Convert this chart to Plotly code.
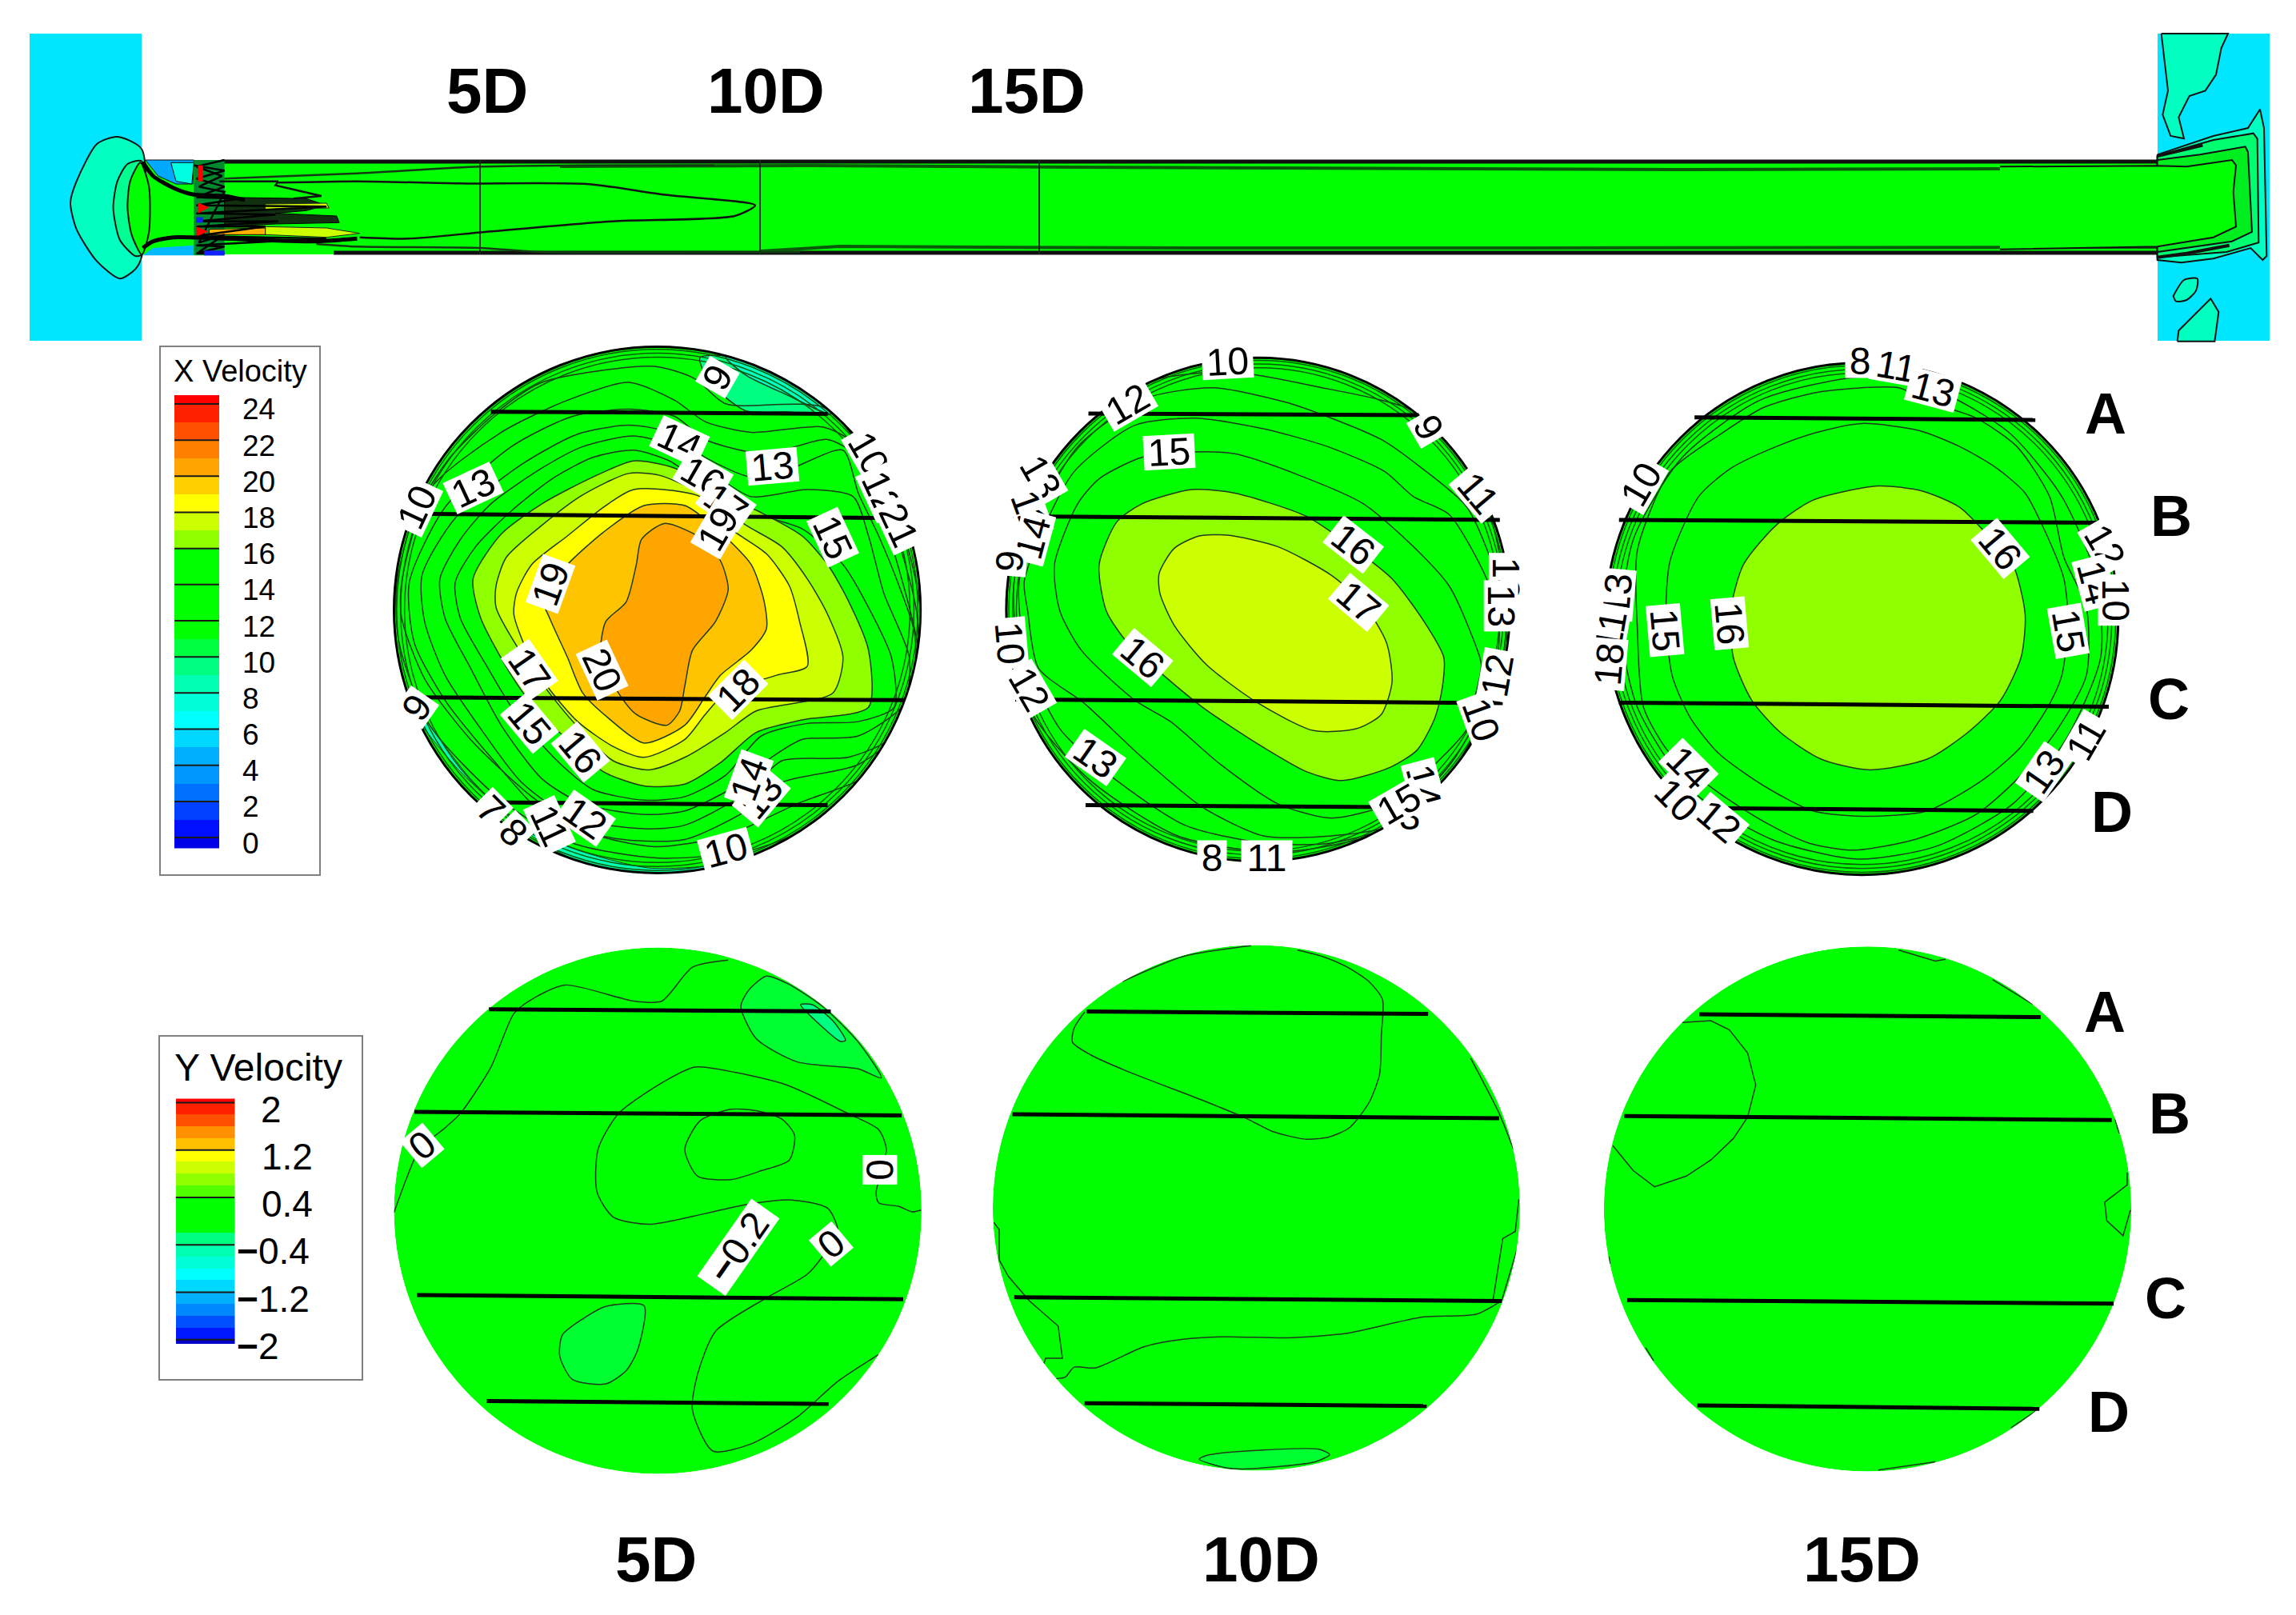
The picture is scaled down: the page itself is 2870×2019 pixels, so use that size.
import math
import plotly.graph_objects as go

W, H = 2870, 2019
FONT = "Liberation Sans"
LINE = "#1c3a1c"
GREEN = "#00ff00"

# panels: page rectangle (x0, y0, w, h) and the units the contours were read in
PANELS = {
    "page": (0, 0, 2870, 2019, 2870, 2019),
    "strip_l": (0, 0, 1000, 450, 1568, 1350),
    "strip_r": (2500, 0, 370, 450, 1110, 1350),
    "x5": (180, 420, 1000, 700, 1568, 1568),
    "x10": (1240, 420, 700, 700, 1568, 1568),
    "x15": (1960, 420, 800, 700, 1568, 1568),
    "y5": (180, 1160, 1000, 700, 1568, 1568),
    "y10": (1220, 1160, 700, 700, 1568, 1568),
    "y15": (1960, 1160, 800, 700, 1568, 1568),
}
# section outlines: centre x, centre y, radius x, radius y
DISCS = {
    "x5": (1006, 767, 516, 737),
    "x10": (745, 766, 705, 705),
    "x15": (720, 792, 628, 717),
    "y5": (1007, 792, 517, 737),
    "y10": (785, 784, 738, 736),
    "y15": (734, 787, 646, 735),
}
RIMS = [0.99, 0.975, 0.96]

# X velocity at 5D, filled regions
X5_L9 = [(1090,60),(1100,110),(1130,160),(1180,210),(1260,213),(1345,218),(1300,150),(1240,100),(1170,60)]
X5_L8 = [(1140,60),(1180,110),(1260,165),(1345,218),(1320,150),(1240,95)]
X5_EDGE_SW = [(500,960),(560,1090),(640,1240),(760,1400),(900,1500),(1100,1510),(1240,1440),(1130,1480),(990,1490),(850,1440),(740,1370),(620,1220),(540,1080)]
X5_L16 = [(645,680),(700,555),(780,470),(880,395),(960,350),(1040,370),(1110,430),(1210,495),(1290,560),(1340,640),(1380,740),(1420,880),(1420,1040),(1290,1075),(1200,1110),(1130,1195),(1060,1255),(980,1260),(900,1220),(830,1130),(770,1050),(720,950),(660,790)]
X5_L17 = [(690,700),(710,620),(780,530),(860,445),(950,385),(1010,390),(1090,440),(1180,530),(1250,590),(1300,680),(1340,780),(1370,900),(1350,1000),(1200,1050),(1140,1110),(1060,1180),(990,1215),(920,1190),(860,1110),(800,1010),(740,890),(690,760)]
X5_L18 = [(730,720),(760,640),(830,560),(900,480),(960,430),(1090,450),(1150,540),(1220,610),(1265,700),(1285,800),(1300,925),(1240,950),(1140,1000),(1100,1060),(1060,1130),(980,1180),(920,1150),(850,1080),(790,980),(750,880),(725,780)]
X5_L19 = [(780,730),(830,640),(900,550),(980,475),(1060,475),(1130,550),(1190,640),(1215,740),(1220,820),(1190,880),(1130,950),(1100,1010),(1060,1090),(980,1140),(910,1070),(860,1000),(830,900),(795,790)]
X5_L20 = [(1020,525),(1090,565),(1130,630),(1145,710),(1120,800),(1075,880),(1060,980),(1050,1050),(1025,1090),(965,1060),(930,1000),(895,900),(905,800),(945,745),(965,640),(975,570)]
# X velocity at 5D, plain contour lines
X5_L15 = [(610,690),(650,590),(720,490),(800,400),(880,340),(960,320),(1030,350),(1100,420),(1180,490),(1290,540),(1370,640),(1420,760),(1465,900),(1470,1040),(1400,1080),(1300,1085),(1210,1120),(1140,1230),(1060,1290),(980,1300),(880,1270),(810,1190),(730,1060),(670,920),(620,790),(610,690)]
X5_L14 = [(580,680),(620,570),(680,470),(780,370),(860,310),(960,280),(1040,310),(1110,380),(1190,450),(1300,430),(1390,450),(1420,560),(1450,720),(1500,900),(1490,1030),(1400,1120),(1290,1130),(1230,1180),(1160,1260),(1060,1330),(980,1340),(860,1310),(780,1240),(700,1090),(640,930),(590,790),(580,680)]
X5_L13 = [(545,670),(610,510),(740,360),(850,275),(950,250),(1030,270),(1100,340),(1190,395),(1270,370),(1370,320),(1400,440),(1440,560),(1480,700),(1510,830),(1510,1000),(1460,1130),(1380,1180),(1250,1190),(1180,1280),(1060,1370),(980,1380),(840,1350),(740,1250),(660,1100),(590,950),(550,800),(545,670)]
X5_L12 = [(520,690),(590,480),(720,310),(840,225),(950,205),(1040,225),(1100,290),(1190,325),(1250,320),(1340,290),(1400,340),(1460,560),(1500,760),(1520,900),(1500,1080),(1400,1200),(1250,1250),(1180,1330),(1060,1410),(940,1410),(800,1360),(680,1180),(590,1020),(530,860),(520,690)]
X5_L11 = [(505,690),(560,430),(700,270),(830,180),(950,130),(1040,180),(1100,240),(1190,270),(1330,255),(1390,300),(1470,540),(1515,780),(1510,1020),(1430,1220),(1280,1310),(1140,1400),(1000,1430),(870,1390),(760,1290),(640,1130),(550,960),(505,790),(505,690)]
X5_L10 = [(495,700),(530,500),(600,340),(690,215),(780,130),(1000,85),(1080,120),(1140,190),(1340,205),(1480,520),(1522,780),(1490,1080),(1350,1340),(1190,1440),(1010,1462),(840,1420),(700,1300),(560,1090),(500,860),(495,700)]

# X velocity at 10D
X10_L16 = [(300,640),(350,520),(420,470),(560,430),(680,440),(880,505),(1000,585),(1120,680),(1210,800),(1265,900),(1260,990),(1240,1070),(1190,1160),(1110,1210),(980,1245),(880,1220),(740,1140),(590,1040),(480,950),(380,860),(320,770)]
X10_L17 = [(468,665),(510,595),(580,560),(660,558),(800,590),(950,670),(1040,750),(1105,860),(1120,970),(1090,1060),(1020,1100),(900,1105),(740,1025),(600,920),(510,810),(470,720)]
X10_L15 = [(175,640),(240,470),(300,400),(420,340),(560,325),(680,330),(860,390),(1040,470),(1180,590),(1280,700),(1340,830),(1370,920),(1350,1020),(1330,1100),(1260,1180),(1110,1310),(950,1350),(800,1310),(640,1200),(500,1080),(400,1020),(250,880),(190,770),(175,640)]
X10_L14 = [(90,690),(130,570),(230,380),(400,250),(570,230),(760,260),(940,310),(1100,380),(1180,450),(1280,500),(1385,680),(1420,800),(1400,1000),(1300,1200),(1120,1370),(950,1400),(760,1400),(590,1320),(420,1180),(260,1030),(130,930),(100,770),(90,690)]
X10_L13 = [(75,700),(110,540),(240,310),(430,175),(620,145),(820,185),(950,230),(1090,290),(1190,360),(1330,480),(1420,700),(1440,900),(1340,1160),(1150,1360),(950,1420),(760,1420),(540,1370),(330,1230),(190,1100),(95,900),(75,700)]
X10_L12 = [(60,720),(100,500),(230,270),(430,130),(660,100),(900,140),(1200,220),(1380,460),(1435,700),(1430,900),(1290,1190),(1080,1390),(800,1445),(520,1400),(270,1240),(110,1050),(60,720)]

# X velocity at 15D
X15_L16 = [(760,420),(870,435),(960,480),(1030,560),(1090,640),(1120,780),(1110,900),(1060,1020),(980,1110),(880,1185),(740,1215),(620,1185),(520,1110),(450,1020),(405,900),(400,760),(430,640),(510,530),(600,460)]
X15_L15 = [(720,245),(860,265),(960,310),(1050,370),(1120,440),(1170,550),(1215,680),(1225,800),(1210,950),(1180,1030),(1110,1150),(1020,1240),(880,1330),(720,1345),(600,1330),(480,1260),(370,1170),(300,1070),(255,950),(240,780),(250,630),(320,450),(400,370),(510,310),(610,270),(720,245)]
X15_L14 = [(720,145),(810,145),(900,190),(1000,230),(1100,310),(1180,450),(1215,620),(1270,760),(1270,950),(1200,1100),(1110,1230),(1000,1340),(850,1410),(700,1440),(590,1420),(480,1360),(370,1280),(250,1170),(185,1040),(170,820),(170,600),(250,380),(380,270),(480,200),(600,160),(720,145)]
X15_L13 = [(720,115),(900,150),(1080,270),(1210,450),(1295,680),(1305,900),(1220,1130),(1090,1310),(900,1430),(710,1465),(500,1410),(300,1270),(170,1040),(130,820),(160,570),(280,340),(470,180),(720,115)]

# Y velocity contours
Y5_LINE_A = [(1145,90),(1075,110),(1015,205),(960,205),(825,160),(760,200),(725,240),(680,390),(620,520),(590,560),(540,620),(515,700),(490,797)]
Y5_LINE_B = [(1523,790),(1505,795),(1480,780),(1440,770),(1435,740),(1455,620),(1440,565),(1380,520),(1260,440),(1160,405),(1080,390),(1020,430),(930,520),(890,620),(888,740),(920,810),(990,830),(1100,800),(1180,775),(1270,762),(1340,785),(1360,850),(1335,910),(1300,970),(1215,1040),(1120,1130),(1085,1250),(1075,1350),(1115,1465),(1190,1445),(1280,1370),(1360,1270),(1440,1195)]
Y5_LOOP = [(1150,508),(1200,512),(1250,535),(1275,580),(1265,650),(1210,680),(1150,705),(1085,695),(1060,620),(1090,540),(1150,508)]
Y5_LOBE_NE = [(1220,135),(1185,175),(1170,220),(1200,310),(1280,375),(1400,395),(1445,420),(1400,320),(1330,220),(1260,155)]
Y5_LOBE_NE2 = [(1287,215),(1310,215),(1350,260),(1375,315),(1365,318),(1320,265)]
Y5_LOBE_S = [(905,1060),(980,1058),(968,1180),(945,1240),(905,1277),(840,1265),(815,1200),(820,1140),(860,1095)]

Y10_LOOP = [(305,235),(275,280),(270,320),(320,355),(420,400),(640,485),(760,535),(830,570),(925,592),(990,585),(1045,560),(1100,490),(1130,410),(1135,300),(1138,200),(1100,150),(1040,110),(970,80),(900,62)]
Y10_EDGE_N = [(410,150),(580,80),(770,50)]
Y10_LEFT = [(50,825),(65,845),(65,930),(90,975),(150,1045),(185,1075),(230,1115),(242,1205),(195,1205),(190,1220)]
Y10_LOW = [(225,1262),(250,1258),(275,1230),(335,1232),(470,1173),(580,1152),(700,1145),(870,1148),(1040,1135),(1250,1090),(1400,1082),(1470,1045)]
Y10_RIGHT = [(1520,760),(1510,850),(1475,870),(1448,1040)]
Y10_RIGHT2 = [(1515,900),(1470,1050)]
Y10_EDGE_E = [(1385,365),(1465,520),(1505,620)]
Y10_LOBE_S = [(625,1488),(650,1476),(960,1460),(990,1475),(950,1495),(760,1515),(700,1512)]

Y15_LOBE = [(280,265),(350,260),(395,285),(440,350),(460,440),(440,530),(405,590),(350,650),(290,695),(212,725),(160,680),(110,610)]
Y15_RIGHT = [(1370,685),(1370,720),(1315,768),(1320,820),(1360,862),(1378,790)]
Y15_BITS = [[(810,62),(900,93),(925,88)],[(1040,145),(1140,215)],[(760,1518),(900,1495)],[(100,920),(103,940)],[(190,1175),(210,1212)],[(1340,535),(1350,575)],[(1085,1400),(1150,1350)]]

# traverse lines A-D per section
TRAVERSES = {
    "x5": [(680,212,1340,218),(520,498,1480,510),(535,1012,1490,1020),(672,1306,1340,1314)],
    "x10": [(270,217,1195,222),(60,505,1422,515),(65,1018,1430,1028),(262,1314,1220,1320)],
    "x15": [(310,228,1145,235),(125,515,1315,523),(125,1027,1325,1038),(308,1322,1140,1330)],
    "y5": [(676,228,1346,234),(530,515,1485,525),(535,1028,1488,1040),(672,1325,1342,1333)],
    "y10": [(310,234,1266,241),(102,522,1465,533),(107,1034,1472,1045),(304,1331,1262,1339)],
    "y15": [(322,242,1158,250),(138,527,1332,538),(145,1042,1337,1052),(317,1337,1155,1347)],
}

# contour labels: text, x, y, angle
X5_LABELS = [("9",1125,115,-60),("10",535,480,-65),("13",645,425,-25),("14",1050,295,25),("13",1232,365,-5),
             ("10",1420,330,60),("16",1095,395,30),("12",1445,440,65),("21",1480,530,65),("17",1140,470,35),("19",1125,540,-60),
             ("15",1350,565,65),("19",797,695,-70),("17",755,935,55),("20",897,935,65),("18",1165,990,-45),
             ("9",535,1040,-55),("15",755,1085,50),("16",855,1165,50),("13",1210,1290,-50),("14",1185,1240,-70),
             ("7",680,1325,45),("8",725,1390,45),("11",795,1370,65),("12",865,1350,35),("10",1140,1440,-15)]
X10_LABELS = [("10",660,72,-3),("12",380,190,-30),("9",1222,255,60),("15",497,325,-3),("11",1360,440,50),
              ("13",135,395,60),("11",105,490,70),("14",115,565,-75),("9",50,630,-85),("16",1012,585,38),("17",1027,745,40),
              ("16",422,900,40),("13",1440,680,90),("13",1425,755,90),("12",1415,950,-80),("10",1370,1075,70),("10",50,860,85),
              ("12",105,990,60),("13",290,1180,35),("3",1170,1345,0),("14",1210,1260,75),("15",1140,1310,-30),("8",615,1460,0),("11",770,1460,0)]
X15_LABELS = [("8",715,70,0),("11",805,85,10),("13",895,150,15),("10",180,415,-60),("16",1060,595,50),("12",1315,590,60),
              ("14",1290,690,75),("10",1340,740,90),("15",1225,825,80),("16",395,805,85),("15",237,825,85),("13",120,725,-85),
              ("11",105,825,-80),("18",100,920,-85),("14",295,1210,45),("10",265,1300,45),("12",370,1360,40),("13",1165,1220,-55),("11",1270,1130,-60)]
Y5_LABELS = [("0",545,610,-40),("0",1443,678,90),("<b>−</b>0.2",1165,893,-55),("0",1347,885,-40)]

# colour legends
X_BAND_BASE = [-0.6] + list(range(0, 25))
X_BAND_COLORS = ["#0000e8", "#0010ff", "#0040ff", "#0070ff", "#0098ff", "#00b0ff", "#00d8ff", "#00ffff", "#00ffd8", "#00ffb0", "#00ff80", "#00ff40",
                 GREEN, GREEN, GREEN, GREEN, GREEN, "#90ff00", "#ccff00", "#ffff00", "#ffd000", "#ffa500", "#ff8000", "#ff5000", "#ff2000", "#ff0000"]
X_BAND_TOP = 24.5
X_TICKS = list(range(0, 25, 2))
Y_BAND_BASE = [-2.07, -2.0, -1.8, -1.6, -1.4, -1.2, -1.0, -0.8, -0.6, -0.4, -0.2, 0.0, 0.2, 0.4, 0.6, 0.8, 1.0, 1.2, 1.4, 1.6, 1.8, 2.0]
Y_BAND_COLORS = ["#0000c8", "#0018ff", "#0050ff", "#0088ff", "#00b0ff", "#00d8ff", "#00ffff", "#00ffd8", "#00ffb0", "#00ff80",
                 GREEN, GREEN, GREEN, "#50ff00", "#90ff00", "#ccff00", "#ffff00", "#ffc000", "#ff9000", "#ff5000", "#ff2000", "#ff0000"]
Y_BAND_TOP = 2.07
Y_TICKS = [2, 1.2, 0.4, -0.4, -1.2, -2]
Y_TICK_TEXT = ["2", "1.2", "0.4", "<b>−</b>0.4", "<b>−</b>1.2", "<b>−</b>2"]
Y_TICK_SHIFT = [45, 65, 65, 48, 48, 28]

# longitudinal strip, left end (read in strip_l units)
BELL_OUT = [(278,560),(230,513),(190,540),(150,680),(138,760),(150,860),(190,980),(235,1045),(265,1010),(278,960)]
BELL_MID = [(278,605),(250,615),(230,680),(222,780),(235,900),(265,960),(278,955)]
BELL_IN = [(275,610),(255,680),(250,780),(258,880),(278,955),(292,870),(292,700)]
WEDGE_N = [(285,600),(380,600),(378,690),(345,690),(310,660)]
WEDGE_N2 = [(335,610),(380,610),(376,690),(345,680)]
WEDGE_S = [(280,958),(300,930),(380,920),(380,958)]
NOZZLE = [(380,600),(440,600),(440,958),(380,958)]
STREAK_YELLOW = [(520,765),(640,762),(645,780),(520,785)]
STREAK_LIME = [(520,850),(640,855),(705,875),(640,890),(520,880)]
STREAK_ORANGE = [(410,860),(520,855),(520,880),(410,880)]
STREAK_DARK = [(440,740),(600,745),(640,770),(600,790),(540,800),(660,810),(665,835),(540,840),(440,850)]
SPOTS_RED = [[(388,760),(410,778),(388,800)],[(385,850),(408,868),(385,888)],[(388,620),(398,620),(398,680),(388,680)]]
SPOTS_BLUE = [[(400,940),(440,940),(440,958),(400,958)],[(385,815),(398,815),(398,835),(385,835)]]
EDGE_N = [(280,608),(300,660),(340,705),(380,730),(440,735),(480,750)]
EDGE_S = [(280,930),(300,905),(340,890),(440,895),(620,905),(700,895)]
LOBE_LINE = [(430,680),(545,680),(540,695),(630,735),(575,745)]
LOBE_MAIN = [(545,685),(700,680),(900,688),(1150,690),(1300,730),(1480,770),(1440,810),(1200,830),(950,870),(800,895),(705,890)]
TOP_LINE = [(440,670),(700,650),(940,625),(1150,620),(1400,620)]
BOT_LINE = [(620,915),(700,925),(940,930),(1060,945),(1568,945)]
NOZZLE_MARKS = [[(380,620),(440,640),(385,670),(440,700),(385,740),(470,745),(385,770),(640,775),(385,800),(540,805),(385,830),(545,830),(385,850),(520,850),(385,885),(640,895),(385,920),(440,925),(385,950),(440,950)],
                [(440,600),(385,625),(435,660),(390,700),(440,720),(390,910),(440,880),(390,945)]]

# longitudinal strip, right end (read in strip_r units)
R_TOP = [(605,126),(630,340),(610,430),(640,510),(690,520),(670,440),(710,360),(770,340),(810,280),(830,180),(855,126)]
R_OVAL = [(650,1110),(690,1050),(740,1045),(735,1090),(700,1125),(660,1130),(650,1110)]
R_LOW = [(665,1280),(670,1240),(790,1120),(820,1170),(805,1280)]
R_JET_1 = [(590,580),(800,510),(930,480),(975,410),(990,480),(1000,960),(985,975),(940,930),(800,970),(680,985),(590,975)]
R_JET_2 = [(590,585),(800,525),(950,500),(965,520),(970,910),(850,945),(590,965)]
R_JET_3 = [(590,600),(750,580),(920,550),(930,570),(945,870),(870,905),(590,945)]
R_JET_4 = [(0,625),(590,622),(700,625),(870,600),(885,620),(875,720),(885,850),(800,890),(590,925),(0,935)]
R_STEP_N = [(590,585),(650,570),(760,545)]
R_STEP_S = [(590,965),(700,950),(860,920)]

# longitudinal strip, whole length (page units)
BLOCK_L = (37, 42, 177, 426)
BLOCK_R = (2697, 42, 2837, 426)
TUBE_X = [177, 2697]
TUBE_TOP, TUBE_BOT = 200, 318
STATION_X = [600, 950, 1299]
TOP_LABEL_X = [609, 957, 1283]
BOTTOM_LABEL_X = [820, 1576, 2327]
STATION_TEXT = ["5D", "10D", "15D"]
TOP_LABEL_Y, BOTTOM_LABEL_Y = 113, 1949
LETTERS = ["A", "B", "C", "D"]
LETTER_X = [2632, 2714, 2711, 2640]
LETTER_Y_TOP = [517, 645, 874, 1015]
LETTER_X_LOW = [2631, 2712, 2707, 2636]
LETTER_Y_LOW = [1265, 1392, 1623, 1765]
WALL_LINES_N = [(700,208),(1000,207),(1340,209),(1700,210),(2100,212),(2500,211),(2697,212)]
WALL_LINES_S = [(950,314),(1050,308),(1230,309),(1500,310),(1900,310),(2300,309),(2697,309)]

fig = go.Figure()
layout = dict(width=W, height=H, margin=dict(l=0, r=0, t=0, b=0), paper_bgcolor="white", plot_bgcolor="rgba(0,0,0,0)",
              showlegend=False, barmode="overlay", bargap=0, hovermode=False)
refs = {}
shapes, notes = [], []


def add_axes(name, x0, y0, w, h, xr, yr):
    n = len(refs) + 1
    suffix = "" if n == 1 else str(n)
    layout["xaxis" + suffix] = dict(domain=[x0 / W, (x0 + w) / W], range=xr, visible=False, anchor="y" + suffix, fixedrange=True)
    layout["yaxis" + suffix] = dict(domain=[1 - (y0 + h) / H, 1 - y0 / H], range=yr, visible=False, anchor="x" + suffix, fixedrange=True)
    refs[name] = ("x" + suffix, "y" + suffix)


for name, (x0, y0, w, h, ux, uy) in PANELS.items():
    add_axes(name, x0, y0, w, h, [0, ux], [uy, 0])
add_axes("leg_x", 218, 493.7, 56, 566.9, [0, 1], [-0.6, X_BAND_TOP])
add_axes("leg_y", 219.5, 1373.4, 74, 306.6, [0, 1], [-2.07, Y_BAND_TOP])


def area(panel, pts, fill, edge=LINE, width=1.5, smooth=True):
    xa, ya = refs[panel]
    pts = list(pts) + [pts[0]]
    fig.add_trace(go.Scatter(x=[p[0] for p in pts], y=[p[1] for p in pts], xaxis=xa, yaxis=ya, mode="lines", fill="toself", fillcolor=fill,
                             line=dict(color=edge, width=width, shape="spline" if smooth else "linear", smoothing=0.7)))


def curve(panel, pts, width=1.5, color=LINE, smooth=True):
    xa, ya = refs[panel]
    fig.add_trace(go.Scatter(x=[p[0] for p in pts], y=[p[1] for p in pts], xaxis=xa, yaxis=ya, mode="lines",
                             line=dict(color=color, width=width, shape="spline" if smooth else "linear", smoothing=0.7)))


def disc(panel, fill=GREEN):
    cx, cy, rx, ry = DISCS[panel]
    xa, ya = refs[panel]
    shapes.append(dict(type="circle", xref=xa, yref=ya, x0=cx - rx, x1=cx + rx, y0=cy - ry, y1=cy + ry, fillcolor=fill, line_width=0, layer="below"))


def mask(panel):
    # white ring that trims whatever overshoots the pipe wall
    cx, cy, rx, ry = DISCS[panel]
    xa, ya = refs[panel]
    path = ""
    for k in (1.0, 1.07):
        for i in range(180):
            a = i * 2 * math.pi / 180
            path += ("M" if i == 0 else "L") + f"{cx + k * rx * math.cos(a):.1f},{cy + k * ry * math.sin(a):.1f} "
        path += "Z "
    shapes.append(dict(type="path", xref=xa, yref=ya, path=path, fillcolor="white", fillrule="evenodd", line_width=0, layer="above"))


def rims(panel):
    cx, cy, rx, ry = DISCS[panel]
    xa, ya = refs[panel]
    shapes.append(dict(type="circle", xref=xa, yref=ya, x0=cx - rx, x1=cx + rx, y0=cy - ry, y1=cy + ry, line=dict(color="black", width=3), layer="above"))
    for k in RIMS:
        shapes.append(dict(type="circle", xref=xa, yref=ya, x0=cx - k * rx, x1=cx + k * rx, y0=cy - k * ry, y1=cy + k * ry, line=dict(color="#0a5a0a", width=1.5), layer="above"))


def traverses(panel):
    xa, ya = refs[panel]
    for x0, y0, x1, y1 in TRAVERSES[panel]:
        shapes.append(dict(type="line", xref=xa, yref=ya, x0=x0, y0=y0, x1=x1, y1=y1, line=dict(color="black", width=5), layer="above"))


def labels(panel, rows, size=48):
    xa, ya = refs[panel]
    for text, x, y, ang in rows:
        plain = text.replace("<b>", "").replace("</b>", "")
        notes.append(dict(text=text, x=x, y=y, xref=xa, yref=ya, showarrow=False, textangle=ang, bgcolor="white", borderpad=0,
                          width=int(len(plain) * size * 0.56 + 10), height=int(size * 0.88), font=dict(family=FONT, size=size, color="black")))


def plain_text(x, y, text, size, bold=True):
    xa, ya = refs["page"]
    notes.append(dict(text="<b>%s</b>" % text if bold else text, x=x, y=y, xref=xa, yref=ya, showarrow=False, font=dict(family=FONT, size=size, color="black")))


# strip: blocks and tube
for bx0, by0, bx1, by1 in (BLOCK_L, BLOCK_R):
    area("page", [(bx0, by0), (bx1, by0), (bx1, by1), (bx0, by1)], "#00e6ff", edge="rgba(0,0,0,0)", width=0, smooth=False)
area("page", [(TUBE_X[0], TUBE_TOP), (TUBE_X[1], TUBE_TOP), (TUBE_X[1], TUBE_BOT), (TUBE_X[0], TUBE_BOT)], GREEN, edge="rgba(0,0,0,0)", width=0, smooth=False)
curve("page", [(TUBE_X[0] + 100, TUBE_TOP + 2), (TUBE_X[1], TUBE_TOP + 2)], width=5, color="#101010", smooth=False)
curve("page", [(TUBE_X[0] + 240, TUBE_BOT - 2), (TUBE_X[1], TUBE_BOT - 2)], width=5, color="#101010", smooth=False)
curve("page", WALL_LINES_N, width=4, color="#0a5a0a", smooth=False)
curve("page", WALL_LINES_S, width=4, color="#0a5a0a", smooth=False)
for sx in STATION_X:
    curve("page", [(sx, TUBE_TOP), (sx, TUBE_BOT)], width=2, color="#0a2a0a", smooth=False)

area("strip_l", BELL_OUT, "#00ffc0", edge="#111", width=2)
area("strip_l", BELL_MID, "#00ff90", edge="#111", width=2)
area("strip_l", BELL_IN, GREEN, edge="#111", width=2)
area("strip_l", WEDGE_N, "#00a8ff", edge="#111", width=1, smooth=False)
area("strip_l", WEDGE_N2, "#00ffe0", edge="#111", width=1, smooth=False)
area("strip_l", WEDGE_S, "#00b8ff", edge="rgba(0,0,0,0)", width=0, smooth=False)
area("strip_l", NOZZLE, "#008a30", edge="rgba(0,0,0,0)", width=0, smooth=False)
area("strip_l", STREAK_DARK, "#103010", edge="#000", width=1, smooth=False)
area("strip_l", STREAK_YELLOW, "#ccff00", edge="#222", width=1, smooth=False)
area("strip_l", STREAK_LIME, "#ccff00", edge="#222", width=1, smooth=False)
area("strip_l", STREAK_ORANGE, "#ffb000", edge="#111", width=1, smooth=False)
for pts in NOZZLE_MARKS:
    curve("strip_l", pts, width=2.5, color="#000", smooth=False)
for pts in SPOTS_RED:
    area("strip_l", pts, "#ff0000", edge="rgba(0,0,0,0)", width=0, smooth=False)
for pts in SPOTS_BLUE:
    area("strip_l", pts, "#1020ff", edge="rgba(0,0,0,0)", width=0, smooth=False)
curve("strip_l", EDGE_N, width=5, color="#000")
curve("strip_l", EDGE_S, width=5, color="#000")
curve("strip_l", LOBE_LINE, width=2.5, color="#111", smooth=False)
curve("strip_l", LOBE_MAIN, width=2.5, color="#111")
curve("strip_l", TOP_LINE, width=2.5, color="#143a14")
curve("strip_l", BOT_LINE, width=2.5, color="#143a14")

# cut by the block edges, so these stay straight-sided
area("strip_r", R_TOP, "#00ffc0", edge="#111", width=2, smooth=False)
area("strip_r", R_OVAL, "#00ffc0", edge="#111", width=2)
area("strip_r", R_LOW, "#00ffc0", edge="#111", width=2, smooth=False)
area("strip_r", R_JET_1, "#00ffc0", edge="#111", width=2, smooth=False)
area("strip_r", R_JET_2, "#00ff70", edge="#111", width=2, smooth=False)
area("strip_r", R_JET_3, "#00ee20", edge="#111", width=2, smooth=False)
# no edge on the fill: its closing side would show as a bar across the tube
area("strip_r", R_JET_4, GREEN, edge="rgba(0,0,0,0)", width=0, smooth=False)
curve("strip_r", R_JET_4, width=2, color="#111", smooth=False)
curve("strip_r", R_STEP_N, width=4, color="#111", smooth=False)
curve("strip_r", R_STEP_S, width=4, color="#111", smooth=False)

# X velocity sections
disc("x5")
area("x5", X5_L9, "#00ff80")
area("x5", X5_L8, "#00ffc0")
area("x5", X5_EDGE_SW, "#00ffb0", width=1)
for line in (X5_L10, X5_L11, X5_L12, X5_L13, X5_L14, X5_L15):
    curve("x5", line)
for poly, col in ((X5_L16, "#90ff00"), (X5_L17, "#ccff00"), (X5_L18, "#ffff00"), (X5_L19, "#ffc400"), (X5_L20, "#ffa500")):
    area("x5", poly, col)
disc("x10")
for line in (X10_L12, X10_L13, X10_L14, X10_L15):
    curve("x10", line)
area("x10", X10_L16, "#90ff00")
area("x10", X10_L17, "#ccff00")
disc("x15")
for line in (X15_L13, X15_L14, X15_L15):
    curve("x15", line)
area("x15", X15_L16, "#90ff00")

# Y velocity sections
for panel in ("y5", "y10", "y15"):
    disc(panel)
area("y5", Y5_LOBE_NE, "#00ff30")
area("y5", Y5_LOBE_NE2, "#00ff80")
area("y5", Y5_LOBE_S, "#00ff30")
for line in (Y5_LINE_A, Y5_LINE_B, Y5_LOOP):
    curve("y5", line)
area("y10", Y10_LOBE_S, "#00ff30")
for line in (Y10_LOOP, Y10_LOW, Y10_RIGHT2, Y10_EDGE_N, Y10_EDGE_E):
    curve("y10", line)
for line in (Y10_LEFT, Y10_RIGHT):
    curve("y10", line, smooth=False)
for line in [Y15_LOBE, Y15_RIGHT] + Y15_BITS:
    curve("y15", line, smooth=False)

for panel in DISCS:
    mask(panel)
for panel in ("x5", "x10", "x15"):
    rims(panel)
for panel in DISCS:
    traverses(panel)

labels("x5", X5_LABELS)
labels("x10", X10_LABELS)
labels("x15", X15_LABELS)
labels("y5", Y5_LABELS)

# legends
xa, ya = refs["page"]
shapes.append(dict(type="rect", xref=xa, yref=ya, x0=200, y0=433, x1=400, y1=1094, line=dict(color="#808080", width=2), fillcolor="rgba(0,0,0,0)", layer="below"))
shapes.append(dict(type="rect", xref=xa, yref=ya, x0=199, y0=1295, x1=453, y1=1725, line=dict(color="#808080", width=2), fillcolor="rgba(0,0,0,0)", layer="below"))
plain_text(300, 464, "X Velocity", 38, bold=False)
plain_text(323, 1334, "Y Velocity", 48, bold=False)

for panel, bases, top, cols, ticks in (("leg_x", X_BAND_BASE, X_BAND_TOP, X_BAND_COLORS, X_TICKS), ("leg_y", Y_BAND_BASE, Y_BAND_TOP, Y_BAND_COLORS, Y_TICKS)):
    xa, ya = refs[panel]
    heights = [b - a for a, b in zip(bases, bases[1:] + [top])]
    fig.add_trace(go.Bar(x=[0.5] * len(bases), y=heights, base=bases, width=1, marker=dict(color=cols, line_width=0), xaxis=xa, yaxis=ya))
    for t in ticks:
        fig.add_trace(go.Scatter(x=[0, 1], y=[t, t], mode="lines", line=dict(color="#1a1a1a", width=2), xaxis=xa, yaxis=ya))

xa, ya = refs["leg_x"]
for t in X_TICKS:
    notes.append(dict(text=str(t), x=1, y=t, xref=xa, yref=ya, xanchor="left", xshift=27, yshift=-7, showarrow=False, font=dict(family=FONT, size=37, color="black")))
xa, ya = refs["leg_y"]
for t, txt, sh in zip(Y_TICKS, Y_TICK_TEXT, Y_TICK_SHIFT):
    notes.append(dict(text=txt, x=1, y=t, xref=xa, yref=ya, xanchor="center", xshift=sh, yshift=-8, showarrow=False, font=dict(family=FONT, size=46, color="black")))

# bold station and traverse letters
for x, text in zip(TOP_LABEL_X, STATION_TEXT):
    plain_text(x, TOP_LABEL_Y, text, 80)
for x, text in zip(BOTTOM_LABEL_X, STATION_TEXT):
    plain_text(x, BOTTOM_LABEL_Y, text, 80)
for x, y, text in zip(LETTER_X, LETTER_Y_TOP, LETTERS):
    plain_text(x, y, text, 72)
for x, y, text in zip(LETTER_X_LOW, LETTER_Y_LOW, LETTERS):
    plain_text(x, y, text, 72)

layout["shapes"] = shapes
layout["annotations"] = notes
fig.update_layout(**layout)
fig.write_html("out.html", config={"displayModeBar": False},
               post_script="document.body.style.margin='0';document.documentElement.style.overflow='hidden';")
